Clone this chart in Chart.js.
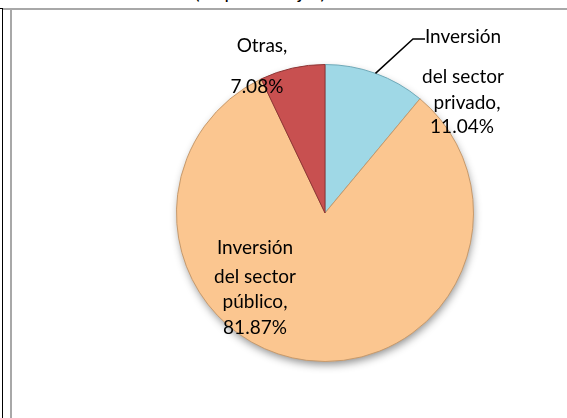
<!DOCTYPE html>
<html>
<head>
<meta charset="utf-8">
<script src="https://cdn.jsdelivr.net/npm/chart.js@4.4.1/dist/chart.umd.min.js"></script>
<style>
    body { margin: 0; background: #fff; }
    #wrap { position: relative; width: 567px; height: 418px; overflow: hidden; font-family: Lato, 'Open Sans', sans-serif; }
    #pieChart { position: absolute; left: 0; top: 0; }
    .title { position: absolute; left: 0; width: 520px; top: -19px; text-align: center; font-size: 19px; line-height: 22px; color: #000; }
    .ln { position: absolute; }
</style>
</head>
<body>
<div id="wrap">
    <div class="title">(en porcentajes)</div>
    <div class="ln" style="left:0;top:8px;width:3px;height:1px;background:#000"></div>
    <div class="ln" style="left:2px;top:8px;width:1px;height:410px;background:#000"></div>
    <div class="ln" style="left:3px;top:8px;width:564px;height:2px;background:#a8a8a8"></div>
    <div class="ln" style="left:10px;top:9px;width:2px;height:409px;background:#a8a8a8"></div>
    <canvas id="pieChart" width="567" height="418"></canvas>
</div>
<script>
// data
var categories = ['Inversión del sector privado', 'Inversión del sector público', 'Otras'];
var shares = [11.04, 81.87, 7.08];
var labelLines = [
    ['Inversión', 'del sector', 'privado,', '11.04%'],
    ['Inversión', 'del sector', 'público,', '81.87%'],
    ['Otras,', '7.08%']
];

var sliceColors = ['#9fd8e6', '#fbc690', '#c85050'];
var sliceEdges = ['#6fa9b8', '#c79a6c', '#8e3535'];

// label offsets from pie center (px), one per line
var labelSpots = [
    [[138, -176], [138, -136], [142, -110], [137, -86]],
    [[-70, 35], [-70, 64], [-70, 89], [-70, 115]],
    [[-63, -167], [-68, -126]]
];

function shade(hex, amt) {
    var n = parseInt(hex.slice(1), 16);
    var r = (n >> 16) & 255, g = (n >> 8) & 255, b = n & 255;
    var f = function (c) { return Math.max(0, Math.min(255, Math.round(c + amt))); };
    return 'rgb(' + f(r) + ',' + f(g) + ',' + f(b) + ')';
}

function sliceFill(context) {
    var chart = context.chart;
    var arc = chart.getDatasetMeta(0).data[context.dataIndex];
    var base = sliceColors[context.dataIndex];
    if (!arc || !arc.outerRadius) return base;
    var g = chart.ctx.createRadialGradient(arc.x, arc.y, 0, arc.x, arc.y, arc.outerRadius);
    g.addColorStop(0, base);
    g.addColorStop(0.86, base);
    g.addColorStop(0.95, shade(base, 14));
    g.addColorStop(1, shade(base, -25));
    return g;
}

const pieShadow = {
    id: 'pieShadow',
    beforeDatasetsDraw(chart) {
        var arc = chart.getDatasetMeta(0).data[0];
        if (!arc) return;
        var ctx = chart.ctx;
        ctx.save();
        ctx.shadowColor = 'rgba(0,0,0,0.45)';
        ctx.shadowBlur = 9;
        ctx.shadowOffsetX = 1;
        ctx.shadowOffsetY = 4;
        ctx.beginPath();
        ctx.arc(arc.x, arc.y, arc.outerRadius - 1, 0, Math.PI * 2);
        ctx.fillStyle = '#fbc690';
        ctx.fill();
        ctx.restore();
    }
};

const pieLabels = {
    id: 'pieLabels',
    afterDatasetsDraw(chart) {
        var meta = chart.getDatasetMeta(0);
        var ctx = chart.ctx;
        var cx = meta.data[0].x, cy = meta.data[0].y;
        ctx.save();
        ctx.font = '19px Lato, "Open Sans", sans-serif';
        ctx.fillStyle = '#000';
        ctx.textAlign = 'center';
        ctx.textBaseline = 'middle';
        labelLines.forEach(function (lines, i) {
            lines.forEach(function (t, j) {
                var p = labelSpots[i][j];
                ctx.fillText(t, cx + p[0], cy + p[1]);
            });
        });

        // leader line for the private share
        var a = meta.data[0];
        var mid = (a.startAngle + a.endAngle) / 2;
        var sx = a.x + Math.cos(mid) * a.outerRadius;
        var sy = a.y + Math.sin(mid) * a.outerRadius;
        ctx.strokeStyle = '#000';
        ctx.lineWidth = 1.5;
        ctx.beginPath();
        ctx.moveTo(sx, sy);
        ctx.lineTo(cx + 88, cy - 174);
        ctx.lineTo(cx + 100, cy - 174);
        ctx.stroke();
        ctx.restore();
    }
};

var pie = new Chart(document.getElementById('pieChart').getContext('2d'), {
    type: 'pie',
    data: {
        labels: categories,
        datasets: [{
            data: shares,
            backgroundColor: sliceFill,
            borderColor: sliceEdges,
            borderWidth: 1
        }]
    },
    options: {
        responsive: false,
        animation: false,
        layout: { padding: { left: 176, right: 93, top: 64, bottom: 56 } },
        plugins: {
            legend: { display: false },
            tooltip: { enabled: false }
        }
    },
    plugins: [pieShadow, pieLabels]
});
</script>
</body>
</html>
